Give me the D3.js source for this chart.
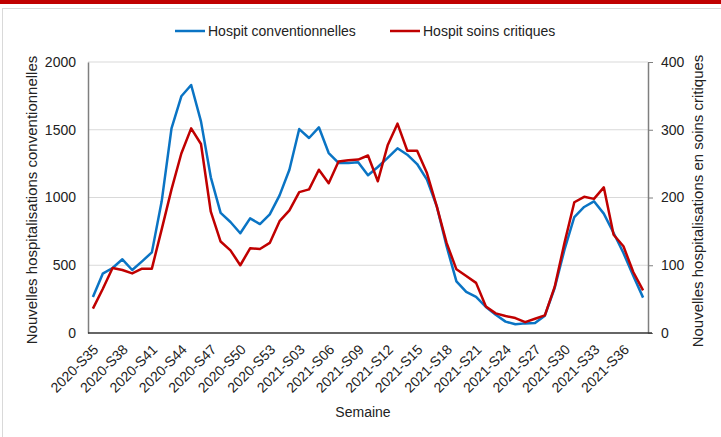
<!DOCTYPE html>
<html lang="fr">
<head>
<meta charset="UTF-8">
<title>Hospitalisations</title>
<script src="https://d3js.org/d3.v7.min.js"></script>
<style>
    body { margin: 0; background: #fff; }
    svg { display: block; font-family: "Liberation Sans", Arial, sans-serif; }
    .grid line { stroke: #d9d9d9; stroke-width: 1px; }
</style>
</head>
<body>
<svg id="canvas" width="721" height="437"></svg>
<script>
// weeks 2020-S35 .. 2021-S38
let weeks = [];
for (let w = 35; w <= 53; w++) weeks.push("2020-S" + w);
for (let w = 1; w <= 38; w++) weeks.push("2021-S" + String(w).padStart(2, "0"));

let tickLabels = ["2020-S35","2020-S38","2020-S41","2020-S44","2020-S47","2020-S50","2020-S53",
    "2021-S03","2021-S06","2021-S09","2021-S12","2021-S15","2021-S18","2021-S21","2021-S24",
    "2021-S27","2021-S30","2021-S33","2021-S36"];

// Hospit conventionnelles (left axis)
let conv = [266,438,480,544,465,529,595,972,1510,1747,1830,1562,1149,886,819,736,846,804,876,1016,
    1205,1505,1439,1518,1328,1255,1255,1260,1164,1225,1292,1363,1316,1247,1132,935,640,381,303,266,
    192,135,84,64,71,74,128,332,615,856,930,972,881,738,590,423,261];

// Hospit soins critiques (right axis)
let crit = [36,65,96,93,88,95,95,153,212,265,302,279,179,135,122,100,125,124,133,165,
    181,208,212,241,221,253,255,256,262,224,277,309,269,269,236,187,133,94,84,74,
    39,29,25,22,16,21,26,68,133,193,201,198,215,145,128,90,63];

let leftTicks = [0, 500, 1000, 1500, 2000];
let rightTicks = [0, 100, 200, 300, 400];

let svg = d3.select("#canvas");
let plot = {left: 88, right: 648, top: 62, bottom: 333};

// frame + top bar
svg.append("rect").attr("x", 2.5).attr("y", 8.5).attr("width", 730).attr("height", 440)
    .attr("fill", "none").attr("stroke", "#d9d9d9");
svg.append("rect").attr("x", 0).attr("y", 0).attr("width", 721).attr("height", 4).attr("fill", "#c00000");

let x = d3.scaleBand().domain(weeks).range([plot.left, plot.right]);
let xc = d => x(d) + x.bandwidth() / 2;
let yL = d3.scaleLinear().domain([0, 2000]).range([plot.bottom, plot.top]);
let yR = d3.scaleLinear().domain([0, 400]).range([plot.bottom, plot.top]);

// gridlines
svg.append("g").attr("class", "grid").selectAll("line")
    .data(leftTicks.slice(1)).join("line")
    .attr("x1", plot.left).attr("x2", plot.right)
    .attr("y1", d => yL(d)).attr("y2", d => yL(d));

// left axis
let axL = svg.append("g").attr("transform", `translate(${plot.left},0)`)
    .call(d3.axisLeft(yL).tickValues(leftTicks).tickFormat(d3.format("d")).tickSize(0).tickPadding(12));
axL.select(".domain").attr("stroke", "#7f7f7f").attr("stroke-width", 1.5);
axL.selectAll("text").attr("font-size", 14).attr("fill", "#222").attr("font-family", "Liberation Sans, Arial");

// right axis
let axR = svg.append("g").attr("transform", `translate(${plot.right},0)`)
    .call(d3.axisRight(yR).tickValues(rightTicks).tickFormat(d3.format("d")).tickSize(5).tickSizeOuter(0).tickPadding(8));
axR.select(".domain").attr("stroke", "#7f7f7f").attr("stroke-width", 1.5);
axR.selectAll(".tick line").attr("stroke", "#7f7f7f");
axR.selectAll("text").attr("font-size", 14).attr("fill", "#222").attr("font-family", "Liberation Sans, Arial");

// bottom axis
let axB = svg.append("g").attr("transform", `translate(0,${plot.bottom})`)
    .call(d3.axisBottom(x).tickValues(tickLabels).tickSize(0).tickSizeOuter(0));
axB.select(".domain").attr("stroke", "#333").attr("stroke-width", 1.5)
    .attr("d", `M${plot.left},0H${plot.right + 4}`);
axB.selectAll("text")
    .attr("font-size", 14).attr("fill", "#222").attr("font-family", "Liberation Sans, Arial")
    .attr("text-anchor", "end")
    .attr("transform", "translate(3,14) rotate(-45)")
    .attr("dy", "0.35em").attr("y", 0);

// lines
let lineL = d3.line().x((d, i) => xc(weeks[i])).y(d => yL(d));
let lineR = d3.line().x((d, i) => xc(weeks[i])).y(d => yR(d));

svg.append("path").datum(conv).attr("d", lineL)
    .attr("fill", "none").attr("stroke", "#0a74c4").attr("stroke-width", 2.5).attr("stroke-linejoin", "round");
svg.append("path").datum(crit).attr("d", lineR)
    .attr("fill", "none").attr("stroke", "#c00000").attr("stroke-width", 2.5).attr("stroke-linejoin", "round");

// axis titles
svg.append("text").attr("transform", "translate(37,200) rotate(-90)")
    .attr("text-anchor", "middle").attr("font-size", 15).attr("fill", "#222")
    .text("Nouvelles hospitalisations conventionnelles");
svg.append("text").attr("transform", "translate(703,201) rotate(-90)")
    .attr("text-anchor", "middle").attr("font-size", 15).attr("fill", "#222")
    .text("Nouvelles hospitalisations en soins critiques");
svg.append("text").attr("x", 363).attr("y", 417)
    .attr("text-anchor", "middle").attr("font-size", 14).attr("fill", "#222")
    .text("Semaine");

// legend
let legend = [
    {name: "Hospit conventionnelles", color: "#0a74c4", x: 175},
    {name: "Hospit soins critiques", color: "#c00000", x: 390}
];
let lg = svg.append("g").selectAll("g").data(legend).join("g")
    .attr("transform", d => `translate(${d.x},31)`);
lg.append("line").attr("x1", 0).attr("x2", 30).attr("stroke", d => d.color).attr("stroke-width", 2.5);
lg.append("text").attr("x", 33).attr("dy", "0.35em").attr("font-size", 14).attr("fill", "#222")
    .text(d => d.name);
</script>
</body>
</html>
